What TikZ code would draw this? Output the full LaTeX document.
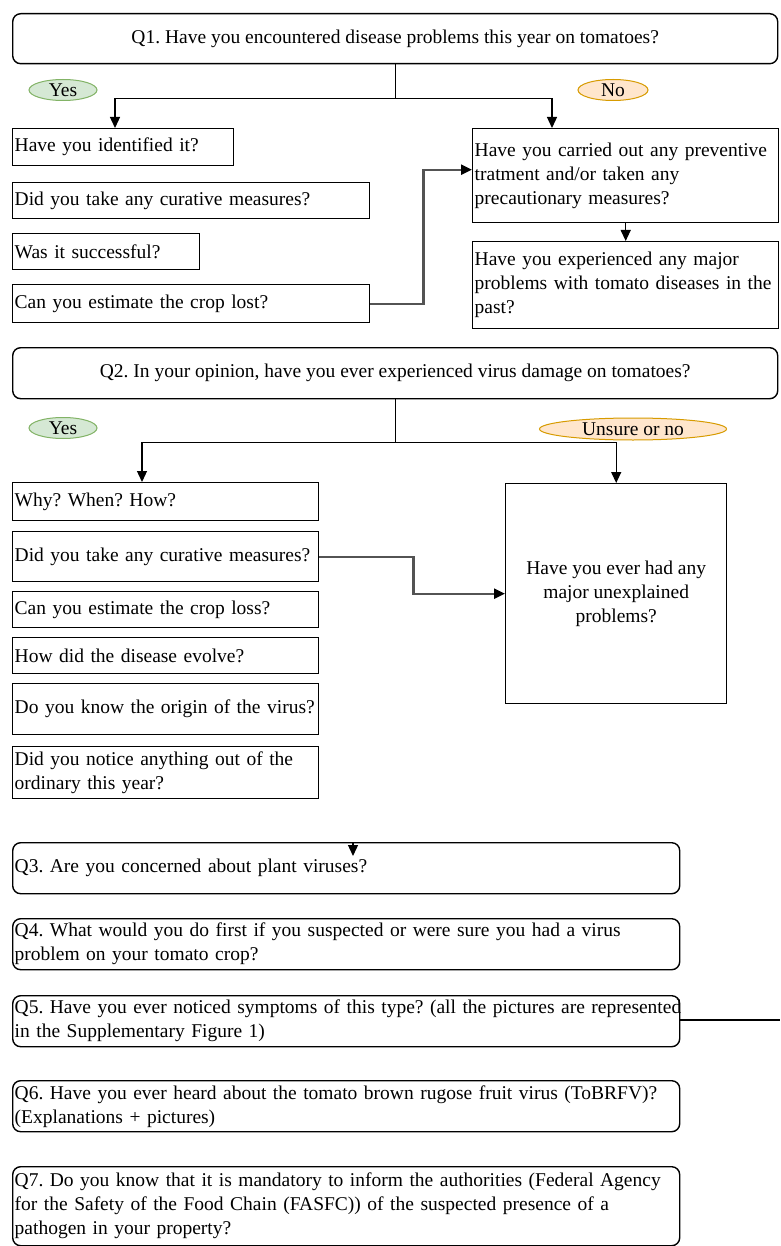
\documentclass[tikz,border=0pt]{standalone}
\usepackage{fontspec}
\setmainfont{Liberation Serif}
\usetikzlibrary{arrows.meta,shapes.geometric,calc}
\definecolor{yesfill}{HTML}{D5E8D4}
\definecolor{yesdraw}{HTML}{82B366}
\definecolor{nofill}{HTML}{FFE6CC}
\definecolor{nodraw}{HTML}{D79B00}
\begin{document}
\frenchspacing
\begin{tikzpicture}[x=1pt,y=-1pt,
  every node/.style={font=\fontsize{19.5}{24}\selectfont},
  qbox/.style={draw, line width=1.4pt, anchor=north west, inner xsep=2pt, inner ysep=0pt, align=left},
  rbox/.style={qbox, rounded corners=8pt},
  cbox/.style={draw, line width=1.4pt, rounded corners=8pt, anchor=north west, align=center, inner sep=0pt},
  yesell/.style={ellipse, draw=yesdraw, fill=yesfill, line width=1pt, inner sep=0pt},
  noell/.style={ellipse, draw=nodraw, fill=nofill, line width=1pt, inner sep=0pt},
  plain/.style={line width=1.3pt},
  link/.style={line width=1.3pt, -{Triangle[length=11pt,width=10pt]}},
  glink/.style={line width=2.2pt, draw=gray!65!black, -{Triangle[length=11pt,width=10pt,color=black]}},
]
\useasboundingbox (0,0) rectangle (780,1246);
\fill[white] (0,0) rectangle (780,1246);

% ---------- Q1 ----------
\node[cbox, minimum width=765pt, minimum height=50pt] (q1) at (12,13) {Q1. Have you encountered disease problems this year on tomatoes?};
\node[yesell, minimum width=68pt, minimum height=21pt] (yes1) at (63,90) {Yes};
\node[noell, minimum width=70pt, minimum height=21pt] (no1) at (613,90) {No};

\node[qbox, minimum width=221pt, minimum height=37pt, text width=217pt] (a1) at (12,128) {Have you identified it?};
\node[qbox, minimum width=357pt, minimum height=36pt, text width=353pt] (a2) at (12,182) {Did you take any curative measures?};
\node[qbox, minimum width=187pt, minimum height=36pt, text width=183pt] (a3) at (12,233) {Was it successful?};
\node[qbox, minimum width=357pt, minimum height=38pt, text width=353pt] (a4) at (12,284) {Can you estimate the crop lost?};

\node[qbox, minimum width=306pt, minimum height=94pt, text width=302pt] (b1) at (472,128) {\mbox{Have you carried out any preventive}\\tratment and/or taken any\\precautionary measures?\\[-8pt]};
\node[qbox, minimum width=306pt, minimum height=87pt, text width=302pt] (b2) at (472,241) {Have you experienced any major\\\mbox{problems with tomato diseases in the}\\past?};

\draw[plain] (q1.south) -- ++(0,34) coordinate (j1);
\draw[link] (j1) -| ([xshift=103pt]a1.north west);
\draw[link] (j1) -| ([xshift=80pt]b1.north west);
\draw[glink] (a4.east) -- ++(53,0) |- ([yshift=6pt]b1.west);
\draw[link] (b1.south) -- (b2.north);

% ---------- Q2 ----------
\node[cbox, minimum width=765pt, minimum height=51pt] (q2) at (12,347) {Q2. In your opinion, have you ever experienced virus damage on tomatoes?};
\node[yesell, minimum width=68pt, minimum height=21pt] (yes2) at (63,428) {Yes};
\node[noell, minimum width=187pt, minimum height=22pt] (unsure) at (633,429) {Unsure or no};

\node[qbox, minimum width=306pt, minimum height=38pt, text width=302pt] (c1) at (12,482) {Why? When? How?};
\node[qbox, minimum width=306pt, minimum height=50pt, text width=302pt] (c2) at (12,531) {\mbox{Did you take any curative measures?}};
\node[qbox, minimum width=306pt, minimum height=36pt, text width=302pt] (c3) at (12,591) {Can you estimate the crop loss?};
\node[qbox, minimum width=306pt, minimum height=36pt, text width=302pt] (c4) at (12,637) {How did the disease evolve?};
\node[qbox, minimum width=306pt, minimum height=51pt, text width=302pt] (c5) at (12,683) {\mbox{Do you know the origin of the virus?}};
\node[qbox, minimum width=306pt, minimum height=52pt, text width=302pt] (c6) at (12,746) {Did you notice anything out of the\\ordinary this year?};

\node[draw, line width=1.4pt, anchor=north west, align=center, inner sep=0pt, minimum width=221pt, minimum height=220pt] (d) at (505,483) {Have you ever had any\\major unexplained\\problems?};

\draw[plain] (q2.south) -- ++(0,43) coordinate (j2);
\draw[link] (j2) -| ([xshift=130pt]c1.north west);
\draw[link] (j2) -| (d.north);
\draw[glink] (c2.east) -- ++(94,0) |- (d.west);

% ---------- Q3 - Q7 ----------
\node[rbox, minimum width=667pt, minimum height=51pt, text width=663pt] (q3) at (12,842) {Q3. Are you concerned about plant viruses?};
\coordinate (q3tip) at (353,856);
\draw[link] (q3.north -| q3tip) -- (q3tip);

\node[rbox, minimum width=667pt, minimum height=51pt, text width=663pt] (q4) at (12,918) {\mbox{Q4. What would you do first if you suspected or were sure you had a virus}\\problem on your tomato crop?};
\node[rbox, minimum width=667pt, minimum height=51pt, text width=663pt] (q5) at (12,995) {\mbox{Q5. Have you ever noticed symptoms of this type? (all the pictures are represented}\\in the Supplementary Figure 1)};
\coordinate (q5out) at (780,1020);
\draw[plain] (q5.east |- q5out) -- (q5out);

\node[rbox, minimum width=667pt, minimum height=51pt, text width=663pt] (q6) at (12,1080) {\mbox{Q6. Have you ever heard about the tomato brown rugose fruit virus (ToBRFV)?}\\(Explanations + pictures)};
\node[rbox, minimum width=667pt, minimum height=79pt, text width=663pt] (q7) at (12,1166) {\mbox{Q7. Do you know that it is mandatory to inform the authorities (Federal Agency}\\\mbox{for the Safety of the Food Chain (FASFC)) of the suspected presence of a}\\pathogen in your property?};
\end{tikzpicture}
\end{document}
